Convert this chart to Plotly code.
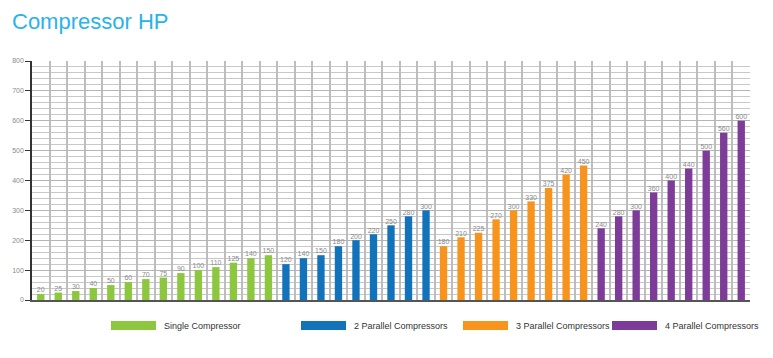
import plotly.graph_objects as go

groups = ["Single Compressor", "2 Parallel Compressors", "3 Parallel Compressors", "4 Parallel Compressors"]
single = [20, 25, 30, 40, 50, 60, 70, 75, 90, 100, 110, 125, 140, 150]
parallel2 = [120, 140, 150, 180, 200, 220, 250, 280, 300]
parallel3 = [180, 210, 225, 270, 300, 330, 375, 420, 450]
parallel4 = [240, 280, 300, 360, 400, 440, 500, 560, 600]
colors = ["#8DC63F", "#1273BA", "#F7941E", "#7D3C98"]
y_ticks = [0, 100, 200, 300, 400, 500, 600, 700, 800]

# the page body adds an 8px offset; compensate so the window matches
PAD = 8
W, H = 773 - PAD, 358 - PAD
ml, mr, mt, mb = 32 - PAD, 23, 61 - PAD, 58
pw = W - ml - mr
ph = H - mt - mb

series = [single, parallel2, parallel3, parallel4]
fig = go.Figure()
offset = 0
for name, vals, col in zip(groups, series, colors):
    xs = list(range(offset, offset + len(vals)))
    offset += len(vals)
    fig.add_trace(go.Bar(
        x=xs, y=vals, name=name, marker=dict(color=col, line=dict(width=0)),
        width=0.42, showlegend=False, hoverinfo="y",
    ))
    fig.add_trace(go.Scatter(
        x=xs, y=vals, mode="text", text=[str(v) for v in vals],
        textposition="top center",
        textfont=dict(size=7, color="#8a8a8a", family="Liberation Sans"),
        cliponaxis=False, showlegend=False, hoverinfo="skip",
    ))
total = offset

# custom legend (wide swatches)
sw_x = [111, 301, 463, 612]
shapes = []
annotations = []
for name, col, sx in zip(groups, colors, sw_x):
    sxp = sx - PAD
    base = mt + ph
    x0 = (sxp - ml) / pw
    x1 = (sxp + 45 - ml) / pw
    y0 = -((321 - PAD) - base) / ph
    y1 = -((330 - PAD) - base) / ph
    shapes.append(dict(type="rect", xref="paper", yref="paper", x0=x0, x1=x1,
                       y0=y0, y1=y1, fillcolor=col, line=dict(width=0)))
    annotations.append(dict(x=(sxp + 51 - ml) / pw, y=-((325.5 - PAD) - base) / ph,
                            xref="paper", yref="paper", text=name, showarrow=False,
                            xanchor="left", yanchor="middle",
                            font=dict(size=9, color="#333333", family="Liberation Sans")))

fig.update_layout(
    width=W, height=H,
    margin=dict(l=ml, r=mr, t=mt, b=mb),
    paper_bgcolor="white", plot_bgcolor="white",
    title=dict(text="Compressor HP", x=(12 - PAD) / W, xanchor="left",
               y=1 - (21 - PAD) / H, yanchor="middle",
               font=dict(size=22, color="#29B2EC", family="Liberation Sans")),
    shapes=shapes, annotations=annotations,
    xaxis=dict(range=[-0.5, total - 0.5], tick0=-0.5, dtick=1, showticklabels=False,
               showgrid=True, gridcolor="#BDBDBD", gridwidth=1.5, zeroline=False,
               showline=True, linecolor="#555555", linewidth=2, ticks="",
               automargin=False),
    yaxis=dict(range=[0, 800], tickvals=y_ticks, ticktext=[str(v) for v in y_ticks],
               showgrid=True, gridcolor="#B5B5B5", gridwidth=1,
               minor=dict(dtick=20, showgrid=True, gridcolor="#C8C8C8", gridwidth=1),
               ticks="outside", ticklen=5, tickcolor="#333333", tickwidth=1,
               showline=True, linecolor="#333333", linewidth=1.5, zeroline=False,
               automargin=False,
               tickfont=dict(size=7, color="#8a8a8a", family="Liberation Sans")),
    font=dict(family="Liberation Sans"),
)
fig.write_html("out.html")
